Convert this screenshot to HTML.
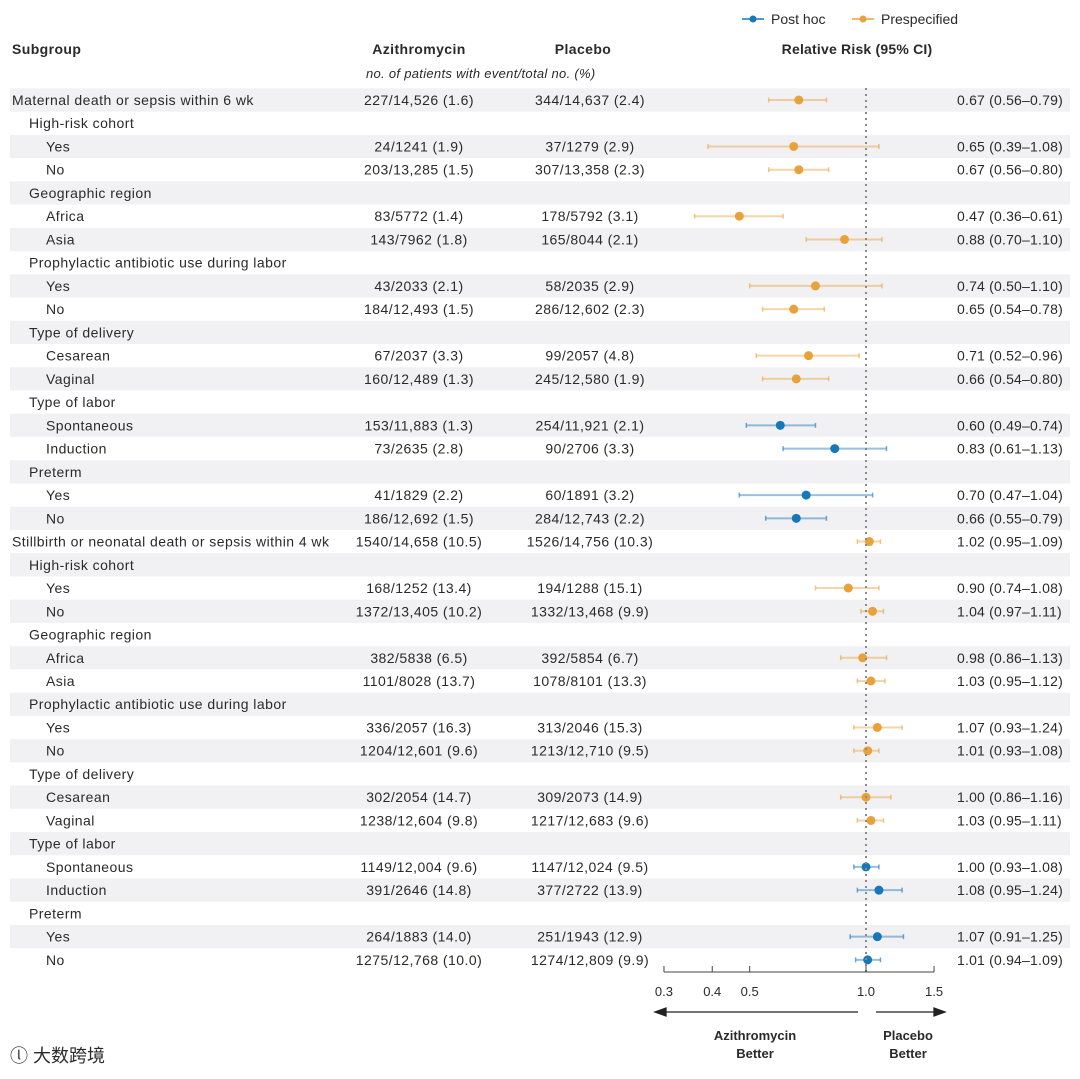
<!DOCTYPE html>
<html><head><meta charset="utf-8"><style>
body{margin:0;background:#fff;}
svg text{font-family:"Liberation Sans",sans-serif;fill:#2a2a2a;}
</style></head><body>
<svg id="chart" width="1080" height="1074" xmlns="http://www.w3.org/2000/svg">
<g id="bg"></g>
<g id="txt"></g>
<g id="marks"></g>
</svg>
<script>
const labels=["Maternal death or sepsis within 6 wk","High-risk cohort","Yes","No","Geographic region","Africa","Asia","Prophylactic antibiotic use during labor","Yes","No","Type of delivery","Cesarean","Vaginal","Type of labor","Spontaneous","Induction","Preterm","Yes","No",
"Stillbirth or neonatal death or sepsis within 4 wk","High-risk cohort","Yes","No","Geographic region","Africa","Asia","Prophylactic antibiotic use during labor","Yes","No","Type of delivery","Cesarean","Vaginal","Type of labor","Spontaneous","Induction","Preterm","Yes","No"];
const indents=[0,1,2,2,1,2,2,1,2,2,1,2,2,1,2,2,1,2,2,0,1,2,2,1,2,2,1,2,2,1,2,2,1,2,2,1,2,2];
const azi=["227/14,526 (1.6)","","24/1241 (1.9)","203/13,285 (1.5)","","83/5772 (1.4)","143/7962 (1.8)","","43/2033 (2.1)","184/12,493 (1.5)","","67/2037 (3.3)","160/12,489 (1.3)","","153/11,883 (1.3)","73/2635 (2.8)","","41/1829 (2.2)","186/12,692 (1.5)",
"1540/14,658 (10.5)","","168/1252 (13.4)","1372/13,405 (10.2)","","382/5838 (6.5)","1101/8028 (13.7)","","336/2057 (16.3)","1204/12,601 (9.6)","","302/2054 (14.7)","1238/12,604 (9.8)","","1149/12,004 (9.6)","391/2646 (14.8)","","264/1883 (14.0)","1275/12,768 (10.0)"];
const pla=["344/14,637 (2.4)","","37/1279 (2.9)","307/13,358 (2.3)","","178/5792 (3.1)","165/8044 (2.1)","","58/2035 (2.9)","286/12,602 (2.3)","","99/2057 (4.8)","245/12,580 (1.9)","","254/11,921 (2.1)","90/2706 (3.3)","","60/1891 (3.2)","284/12,743 (2.2)",
"1526/14,756 (10.3)","","194/1288 (15.1)","1332/13,468 (9.9)","","392/5854 (6.7)","1078/8101 (13.3)","","313/2046 (15.3)","1213/12,710 (9.5)","","309/2073 (14.9)","1217/12,683 (9.6)","","1147/12,024 (9.5)","377/2722 (13.9)","","251/1943 (12.9)","1274/12,809 (9.9)"];
const rr=[0.67,null,0.65,0.67,null,0.47,0.88,null,0.74,0.65,null,0.71,0.66,null,0.60,0.83,null,0.70,0.66,1.02,null,0.90,1.04,null,0.98,1.03,null,1.07,1.01,null,1.00,1.03,null,1.00,1.08,null,1.07,1.01];
const lo=[0.56,null,0.39,0.56,null,0.36,0.70,null,0.50,0.54,null,0.52,0.54,null,0.49,0.61,null,0.47,0.55,0.95,null,0.74,0.97,null,0.86,0.95,null,0.93,0.93,null,0.86,0.95,null,0.93,0.95,null,0.91,0.94];
const hi=[0.79,null,1.08,0.80,null,0.61,1.10,null,1.10,0.78,null,0.96,0.80,null,0.74,1.13,null,1.04,0.79,1.09,null,1.08,1.11,null,1.13,1.12,null,1.24,1.08,null,1.16,1.11,null,1.08,1.24,null,1.25,1.09];
const posthoc=[0,0,0,0,0,0,0,0,0,0,0,0,0,0,1,1,0,1,1,0,0,0,0,0,0,0,0,0,0,0,0,0,0,1,1,0,1,1];
const ticks=[0.3,0.4,0.5,1.0,1.5];
const tickLabels=["0.3","0.4","0.5","1.0","1.5"];

const NS="http://www.w3.org/2000/svg";
const x=v=>866+Math.log(v)*167.8;
const y=i=>100+i*23.24;
function mk(parent,tag,attrs,text){const e=document.createElementNS(NS,tag);for(const k in attrs)e.setAttribute(k,attrs[k]);if(text!==undefined)e.textContent=text;document.getElementById(parent).appendChild(e);return e;}
const ORANGE="#e9a23b",BLUE="#1677b9";
const FS=14, LS=0.45;
const f=v=>v.toFixed(2);
let e;
e=mk("txt","text",{x:12,y:54,"font-size":14,"font-weight":"bold","letter-spacing":0.4},"Subgroup");

e=mk("txt","text",{x:419,y:54,"font-size":14,"font-weight":"bold","text-anchor":"middle","letter-spacing":0.4},"Azithromycin");

e=mk("txt","text",{x:583,y:54,"font-size":14,"font-weight":"bold","text-anchor":"middle","letter-spacing":0.4},"Placebo");

e=mk("txt","text",{x:366,y:78,"font-size":13,"font-style":"italic","letter-spacing":0.3},"no. of patients with event/total no. (%)");

e=mk("txt","text",{x:857,y:54,"font-size":14,"font-weight":"bold","text-anchor":"middle","letter-spacing":0.2},"Relative Risk (95% CI)");

[[{c:BLUE,t:"Post hoc",x0:742}],[{c:ORANGE,t:"Prespecified",x0:852}]].forEach(a=>{const d=a[0];
 e=mk("marks","line",{x1:d.x0,x2:d.x0+22,y1:19,y2:19,stroke:d.c,"stroke-width":1.5});
 
 e=mk("marks","circle",{cx:d.x0+11,cy:19,r:3.5,fill:d.c});
 
 e=mk("txt","text",{x:d.x0+29,y:24,"font-size":14,fill:"#555"},d.t);
 
});
labels.forEach((lab,i)=>{
 const yy=y(i);
 if(i%2===0){e=mk("bg","rect",{x:10,y:yy-11.6,width:1060,height:23.2,fill:"#f1f1f3"});
 }
 e=mk("txt","text",{x:12+indents[i]*17,y:yy+5,"font-size":FS,"letter-spacing":LS},lab);
 
 if(azi[i]){e=mk("txt","text",{x:419,y:yy+5,"font-size":FS,"text-anchor":"middle","letter-spacing":LS},azi[i]);
 }
 if(pla[i]){e=mk("txt","text",{x:590,y:yy+5,"font-size":FS,"text-anchor":"middle","letter-spacing":LS},pla[i]);
 }
 if(rr[i]!==null){
  e=mk("txt","text",{x:957,y:yy+5,"font-size":FS,"letter-spacing":0.2},f(rr[i])+" ("+f(lo[i])+"\u2013"+f(hi[i])+")");
  
  const c=posthoc[i]?BLUE:ORANGE;
  e=mk("marks","line",{x1:x(lo[i]),x2:x(hi[i]),y1:yy,y2:yy,stroke:c,"stroke-width":2,"stroke-opacity":0.45});
  
  [lo[i],hi[i]].forEach(v=>{e=mk("marks","line",{x1:x(v),x2:x(v),y1:yy-2.5,y2:yy+2.5,stroke:c,"stroke-width":1.5,"stroke-opacity":0.6});
  });
  e=mk("marks","circle",{cx:x(rr[i]),cy:yy,r:4.5,fill:c});
  
 }
});
e=mk("marks","line",{x1:x(1),x2:x(1),y1:88,y2:972,stroke:"#8a8a8a","stroke-width":2,"stroke-dasharray":"2,4"});

e=mk("marks","line",{x1:x(0.3),x2:x(1.5),y1:972,y2:972,stroke:"#444","stroke-width":1});

ticks.forEach((t,k)=>{
 e=mk("marks","line",{x1:x(t),x2:x(t),y1:966,y2:972,stroke:"#444","stroke-width":1});
 
 e=mk("txt","text",{x:x(t),y:996,"font-size":13,"text-anchor":"middle"},tickLabels[k]);
 
});
e=mk("marks","path",{d:"M858 1012 H664 M655 1012 l11 -4 v8 z",stroke:"#222","stroke-width":1.3,fill:"#222"});

e=mk("marks","path",{d:"M876 1012 H936 M945 1012 l-11 -4 v8 z",stroke:"#222","stroke-width":1.3,fill:"#222"});

[["Azithromycin",755,1040],["Better",755,1058],["Placebo",908,1040],["Better",908,1058]].forEach(a=>{
 e=mk("txt","text",{x:a[1],y:a[2],"font-size":13,"font-weight":"bold","text-anchor":"middle"},a[0]);
 
});
e=mk("txt","text",{x:10,y:1062,"font-size":18,fill:"#c8c8c8",style:"font-family:'Liberation Sans','Noto Sans CJK SC',sans-serif"},"\u24DB 大数跨境");

</script>
</body></html>
